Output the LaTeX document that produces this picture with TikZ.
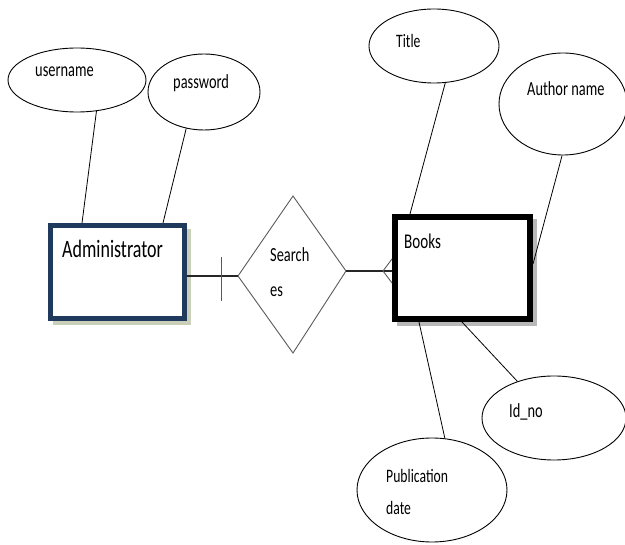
\documentclass[tikz,border=0pt]{standalone}
\usepackage{fontspec}
\setmainfont{Carlito}[FakeStretch=0.72]
\usetikzlibrary{shapes.geometric}
\definecolor{navyb}{HTML}{1F3A5C}
\definecolor{oliveshadow}{HTML}{C9CFB8}
\definecolor{grayshadow}{HTML}{B8B8B8}
\definecolor{dgray}{HTML}{5A5A5A}
\begin{document}
\begin{tikzpicture}[x=1pt,y=-1pt,
  attr/.style={draw=black, line width=0.9pt, ellipse, inner sep=0pt},
  lbl/.style={anchor=base west, inner sep=0pt, font=\fontsize{20}{34}\selectfont, align=left},
  conn/.style={line width=0.8pt, draw=black},
  rel/.style={line width=1.1pt, draw=black!85},
  diam/.style={line width=0.9pt, draw=dgray}]
\useasboundingbox (0,0) rectangle (625,545);
% shadows
\fill[oliveshadow] (53,229) rectangle (191,325);
\fill[grayshadow] (397,219) rectangle (537,326);
% entity boxes
\node[draw=navyb, fill=white, line width=5pt, minimum width=134pt, minimum height=93pt, inner sep=0pt] (admin) at (117.5,272) {};
\node[draw=black, fill=white, line width=6pt, minimum width=135pt, minimum height=102pt, inner sep=0pt] (books) at (462.5,268) {};
\node[lbl, font=\fontsize{25}{28}\selectfont] (adminl) at (62,258) {Administrator};
\node[lbl, font=\fontsize{21}{24}\selectfont] (booksl) at (404,249) {Books};
% attributes
\node[attr, minimum width=138pt, minimum height=64pt] (user) at (77,80) {};
\node[attr, minimum width=112pt, minimum height=76pt] (pass) at (204,92) {};
\node[attr, minimum width=130pt, minimum height=74pt] (title) at (434,46) {};
\node[attr, minimum width=128pt, minimum height=102pt] (author) at (563,104) {};
\node[attr, minimum width=144pt, minimum height=84pt] (idno) at (554,418) {};
\node[attr, minimum width=150pt, minimum height=104pt] (pub) at (432,490) {};
\node[lbl] (userl) at (35,77) {username};
\node[lbl] (passl) at (173,89) {password};
\node[lbl, font=\fontsize{19}{22}\selectfont] (titlel) at (396,48) {Title};
\node[lbl] (authorl) at (527,96) {Author name};
\node[lbl] (idnol) at (509,418) {Id\_no};
\node[lbl, font=\fontsize{19}{32}\selectfont] (publ) at (386,515) {Publication\\date};
% relationship diamond
\coordinate (dt) at (293,196);
\coordinate (dr) at (346,271);
\coordinate (db) at (293,353);
\coordinate (dl) at (238,276);
\draw[diam] (dt) -- (dr) -- (db) -- (dl) -- cycle;
\node[lbl, font=\fontsize{20}{35}\selectfont] (searchl) at (270,297) {Search\\es};
% attribute connectors
\coordinate (ua) at (82,223);
\coordinate (pa) at (163,223);
\coordinate (tb) at (410,214);
\coordinate (ab) at (533,264);
\coordinate (pb) at (419,322);
\coordinate (ib) at (462,322);
\draw[conn] (user.-58) -- (ua);
\draw[conn] (pass.-116.6) -- (pa);
\draw[conn] (title.-73.4) -- (tb);
\draw[conn] (author.-91) -- (ab);
\draw[conn] (pub.76) -- (pb);
\draw[conn] (idno.135.7) -- (ib);
% relationship connectors
\coordinate (ar) at (187,276);
\coordinate (c1) at (221,257);
\coordinate (c2) at (221,301);
\draw[rel] (ar) -- (dl);
\draw[diam] (c1) -- (c2);
\coordinate (bl) at (392,271);
\coordinate (cv) at (383,271);
\coordinate (cu) at (392,259);
\coordinate (cd) at (392,283);
\draw[rel] (dr) -- (bl);
\draw[diam] (cu) -- (cv) -- (cd);
\end{tikzpicture}
\end{document}
